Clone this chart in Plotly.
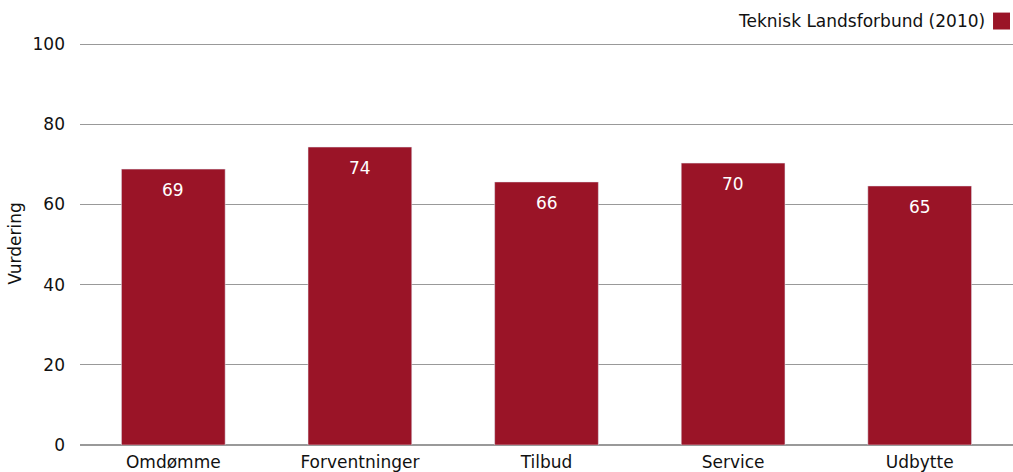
import plotly.graph_objects as go

kategorier = ["Omdømme", "Forventninger", "Tilbud", "Service", "Udbytte"]
vurdering = [68.8, 74.3, 65.6, 70.3, 64.6]
serie_navn = "Teknisk Landsforbund (2010)"
y_ticks = [0, 20, 40, 60, 80, 100]

farve = "#9a1427"
font = "DejaVu Sans, sans-serif"

fig = go.Figure()
fig.add_trace(go.Bar(
    x=kategorier,
    y=vurdering,
    name=serie_navn,
    marker_color=farve,
    showlegend=False,
))

# tal inde i soejlerne, lidt under toppen
for k, v in zip(kategorier, vurdering):
    fig.add_annotation(
        x=k, y=v, text=f"{v:.0f}", showarrow=False,
        yanchor="top", yshift=-9,
        font=dict(color="white", size=17, family=font),
    )

# legend: tekst med farvet firkant til hoejre
fig.add_annotation(
    text=serie_navn, xref="paper", yref="paper", x=0.972, y=1.051,
    xanchor="right", yanchor="middle", showarrow=False,
    font=dict(size=17, color="#111", family=font),
)
fig.add_shape(
    type="rect", xref="paper", yref="paper", x0=0.9786, x1=0.9968,
    y0=1.031, y1=1.073, fillcolor=farve, line_width=0, layer="above",
)

fig.update_layout(
    width=1013, height=472,
    margin=dict(l=80, r=0, t=42, b=27, autoexpand=False),
    plot_bgcolor="white", paper_bgcolor="white",
    bargap=0.444,
    font=dict(family=font, size=17, color="#111"),
)
fig.update_yaxes(
    range=[0, 100.5], tickvals=y_ticks, showgrid=True, gridcolor="#999",
    gridwidth=1, zeroline=True, zerolinecolor="#999", ticks="",
    title=dict(text="Vurdering", standoff=6, font=dict(size=17)),
    ticklabelstandoff=14,
)
fig.update_xaxes(showgrid=False, ticks="", showline=False, range=[-0.5, 4.5],
                 ticklabelstandoff=5)

fig.write_html("out.html", config={"displayModeBar": False},
               post_script="document.body.style.margin='0';")
